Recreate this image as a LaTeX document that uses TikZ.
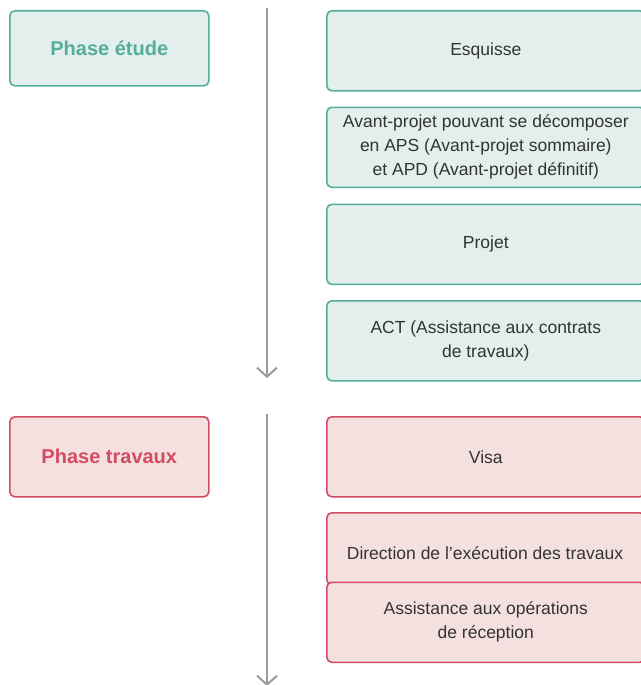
\documentclass[tikz,border=0pt]{standalone}
\usepackage{fontspec}
\setmainfont{Liberation Sans}
\usetikzlibrary{arrows.meta}
\definecolor{gstroke}{HTML}{55AE9C}
\definecolor{gfill}{HTML}{E2EFEC}
\definecolor{rstroke}{HTML}{D24C63}
\definecolor{rfill}{HTML}{F5E0E0}
\definecolor{txt}{HTML}{333333}
\definecolor{axis}{HTML}{9B9B9B}
\tikzset{
  box/.style={draw, rounded corners=5pt, line width=1.6pt, minimum height=80pt, align=center, text=txt, font=\fontsize{17.5}{24}\selectfont, inner sep=0pt},
  gbox/.style={box, draw=gstroke, fill=gfill},
  rbox/.style={box, draw=rstroke, fill=rfill},
  stepbox/.style={minimum width=318pt, anchor=north west},
  phasebox/.style={minimum width=199pt, anchor=north west, font=\bfseries\fontsize{20}{24}\selectfont},
  flow/.style={draw=axis, line width=2pt, -{Straight Barb[length=9pt, width=20pt, line width=2pt]}}
}
\begin{document}
\begin{tikzpicture}[x=1pt,y=-1pt]
\useasboundingbox (0,0) rectangle (640,685);
% left phase boxes
\node[gbox, phasebox, minimum height=75pt, text=gstroke] (pe) at (9,10) {Phase étude};
\node[rbox, phasebox, minimum height=80pt, text=rstroke] (pt) at (9,416) {Phase travaux};
% study steps
\node[gbox, stepbox] (esq) at (326,10) {Esquisse};
\node[gbox, stepbox] (avp) at (326,106.5) {Avant-projet pouvant se décomposer\\en APS (Avant-projet sommaire)\\et APD (Avant-projet définitif)};
\node[gbox, stepbox] (proj) at (326,203.5) {Projet};
\node[gbox, stepbox] (act) at (326,300) {ACT (Assistance aux contrats\\de travaux)};
% works steps
\node[rbox, stepbox] (visa) at (326,416) {Visa};
\node[rbox, stepbox, minimum height=72pt] (det) at (326,512) {};
\node[txt, font=\fontsize{17.5}{24}\selectfont] (dett) at (485,553) {Direction de l’exécution des travaux};
\node[rbox, stepbox] (aor) at (326,581.5) {Assistance aux opérations\\de réception};
% timeline arrows
\coordinate (a1s) at (267,8);
\coordinate (a1e) at (267,378);
\coordinate (a2s) at (267,414);
\coordinate (a2e) at (267,686);
\draw[flow] (a1s) -- (a1e);
\draw[flow] (a2s) -- (a2e);
\end{tikzpicture}
\end{document}
